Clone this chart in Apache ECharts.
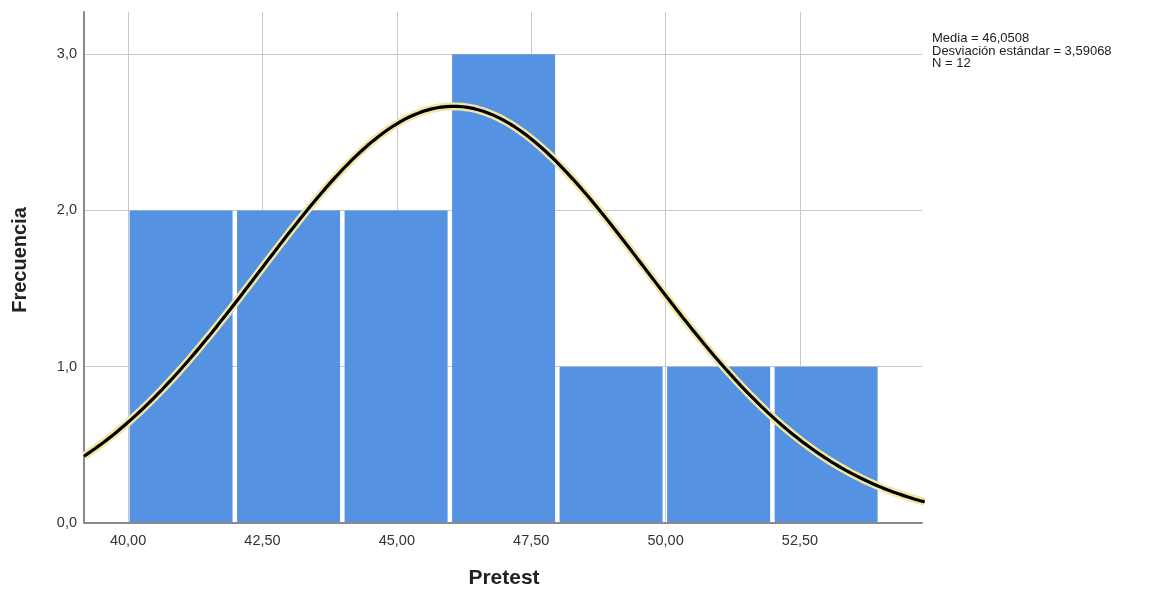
<!DOCTYPE html>
<html>
<head>
<meta charset="utf-8">
<script src="https://cdn.jsdelivr.net/npm/echarts@6/dist/echarts.min.js"></script>
<style>
html,body{margin:0;padding:0;background:#fff;}
#chart{width:1161px;height:589px;}
</style>
</head>
<body>
<div id="chart"></div>
<script>
// Histogram bins (lower edge, upper edge) and frequencies
var binStarts = [40, 42, 44, 46, 48, 50, 52];
var binEnds   = [42, 44, 46, 48, 50, 52, 54];
var frequencies = [2, 2, 2, 3, 1, 1, 1];
// Statistics shown in the chart
var MEAN = 46.0508;
var SD = 3.59068;
var N = 12;
var BIN_WIDTH = 2;
// Tick labels
var xTicks = [40, 42.5, 45, 47.5, 50, 52.5];
var yTicks = [0, 1, 2, 3];
var statsLines = ['Media = 46,0508', 'Desviación estándar = 3,59068', 'N = 12'];
var xTitle = 'Pretest';
var yTitle = 'Frecuencia';

var X_MIN = 39.18, X_MAX = 54.77;

// Fitted normal curve (defined by the displayed mean, sd, N, bin width)
var curve = [];
for (var i = 0; i <= 160; i++) {
  var x = X_MIN + (X_MAX + 0.05 - X_MIN) * i / 160;
  var z = (x - MEAN) / SD;
  curve.push([x, N * BIN_WIDTH * Math.exp(-0.5 * z * z) / (SD * Math.sqrt(2 * Math.PI))]);
}

var barData = binStarts.map(function (s, i) { return [s, binEnds[i], frequencies[i]]; });

var chart = echarts.init(document.getElementById('chart'), null, {renderer: 'canvas'});
var FONT = '"Liberation Sans", Arial, sans-serif';

chart.setOption({
  animation: false,
  backgroundColor: '#ffffff',
  grid: {left: 84, right: 239, top: 12, bottom: 66, containLabel: false},
  xAxis: {
    type: 'value', min: X_MIN, max: X_MAX,
    axisLine: {show: true, lineStyle: {color: '#8a8a8a', width: 2}},
    axisTick: {show: false, customValues: xTicks},
    axisLabel: {customValues: xTicks, fontFamily: FONT, fontSize: 14.5, color: '#333', margin: 10,
      formatter: function (v) { return v.toFixed(2).replace('.', ','); }},
    splitLine: {show: true, lineStyle: {color: '#c8c8c8', width: 1}}
  },
  yAxis: {
    type: 'value', min: 0, max: 3.27,
    axisLine: {show: true, lineStyle: {color: '#8a8a8a', width: 2}},
    axisTick: {show: false, customValues: yTicks},
    axisLabel: {customValues: yTicks, fontFamily: FONT, fontSize: 14.5, color: '#333', margin: 7,
      formatter: function (v) { return v.toFixed(1).replace('.', ','); }},
    splitLine: {show: true, lineStyle: {color: '#c8c8c8', width: 1}}
  },
  graphic: [
    {
      type: 'text', left: 932, top: 32,
      style: {text: statsLines.join('\n'), fontFamily: FONT, fontSize: 13, lineHeight: 12.5, fill: '#222'}
    },
    {
      type: 'text', x: 504, y: 578,
      style: {text: xTitle, fontFamily: FONT, fontSize: 21, fontWeight: 'bold', fill: '#222',
        align: 'center', verticalAlign: 'middle'}
    },
    {
      type: 'text', x: 20, y: 260, rotation: Math.PI / 2,
      style: {text: yTitle, fontFamily: FONT, fontSize: 20, fontWeight: 'bold', fill: '#222',
        align: 'center', verticalAlign: 'middle'}
    }
  ],
  series: [
    {
      type: 'custom',
      data: barData,
      encode: {x: [0, 1], y: 2},
      renderItem: function (params, api) {
        var p0 = api.coord([api.value(0), api.value(2)]);
        var p1 = api.coord([api.value(1), 0]);
        return {
          type: 'rect',
          shape: {x: p0[0] + 1.5, y: p0[1], width: p1[0] - p0[0] - 4.5, height: p1[1] - p0[1] - 1},
          style: {fill: '#5592e1'}
        };
      },
      z: 2
    },
    {
      type: 'line', data: curve, showSymbol: false, smooth: false, clip: false,
      lineStyle: {color: '#f1e6a4', width: 8}, z: 3, silent: true
    },
    {
      type: 'line', data: curve, showSymbol: false, smooth: false, clip: false,
      lineStyle: {color: '#000000', width: 3.2}, z: 4, silent: true
    }
  ]
});
</script>
</body>
</html>
